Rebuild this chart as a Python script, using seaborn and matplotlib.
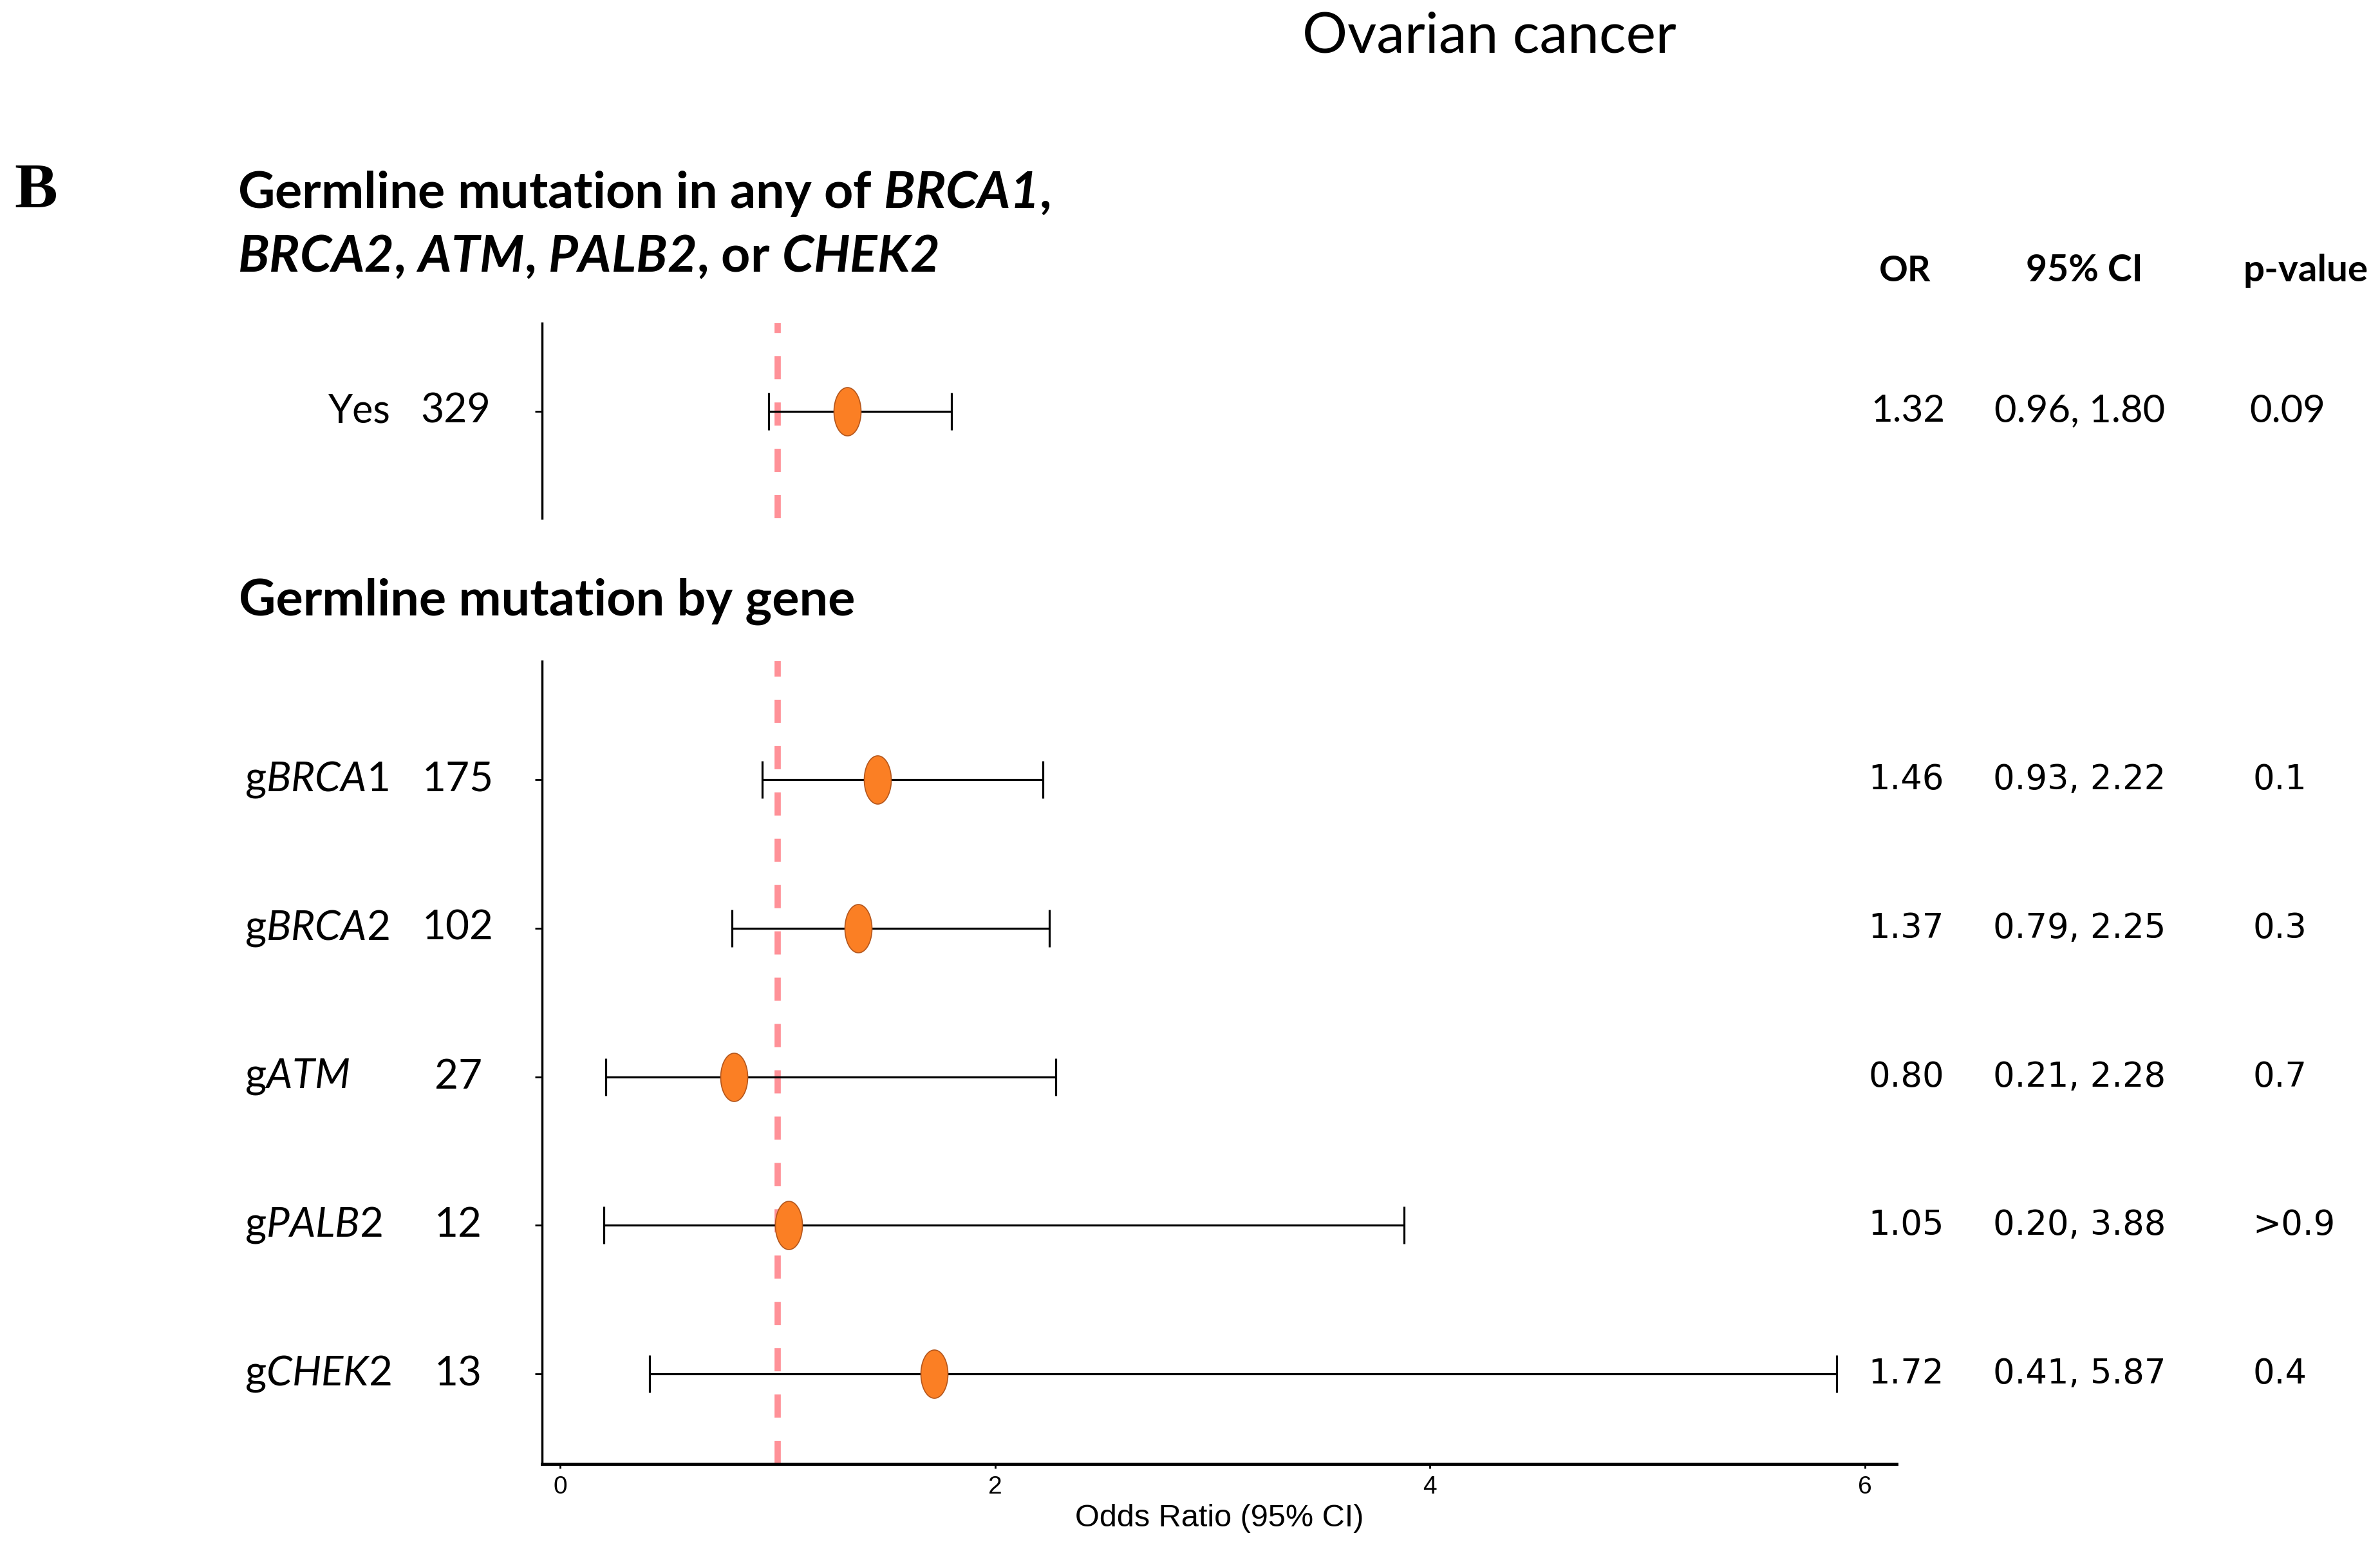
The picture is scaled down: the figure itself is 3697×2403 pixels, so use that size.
import numpy as np
import pandas as pd
import matplotlib
matplotlib.use("Agg")
import matplotlib.pyplot as plt
import matplotlib.transforms as mtransforms
from matplotlib.path import Path
from matplotlib.markers import MarkerStyle
import seaborn as sns

# ---------------- data ----------------
overall_label = ["Yes"]
overall_n = [329]
overall_or = [1.32]
overall_lo = [0.96]
overall_hi = [1.80]
overall_p = ["0.09"]

genes = ["BRCA1", "BRCA2", "ATM", "PALB2", "CHEK2"]
gene_n = [175, 102, 27, 12, 13]
gene_or = [1.46, 1.37, 0.80, 1.05, 1.72]
gene_lo = [0.93, 0.79, 0.21, 0.20, 0.41]
gene_hi = [2.22, 2.25, 2.28, 3.88, 5.87]
gene_p = ["0.1", "0.3", "0.7", ">0.9", "0.4"]

x_ticks = [0, 2, 4, 6]
ref_line = 1.0

# ---------------- style ----------------
sns.set_style("white")
plt.rcParams["font.family"] = ["Lato", "DejaVu Sans"]
plt.rcParams["text.color"] = "black"
plt.rcParams["axes.labelcolor"] = "black"
plt.rcParams["xtick.color"] = "black"
plt.rcParams["ytick.color"] = "black"
plt.rcParams["mathtext.fontset"] = "custom"
plt.rcParams["mathtext.rm"] = "Lato"
plt.rcParams["mathtext.it"] = "Lato:italic"
plt.rcParams["mathtext.bf"] = "Lato:bold"
try:
    plt.rcParams["mathtext.bfit"] = "Lato:italic:bold"
except Exception:
    pass

W, H = 3697, 2403
fig = plt.figure(figsize=(W / 100, H / 100), dpi=100)

ORANGE = "#FB7F24"
EDGE = "#B4561C"
PINK = "#FF9198"

# ellipse marker
t = np.linspace(0, 2 * np.pi, 100)
ell = Path(np.column_stack([0.56 * np.cos(t), np.sin(t)]), closed=True)
ell_marker = MarkerStyle(ell)

XLIM = (-0.083, 6.146)
ax_left, ax_w = 842 / W, (2946 - 842) / W

ax_top = fig.add_axes([ax_left, 1 - 805 / H, ax_w, (805 - 502) / H])
ax_bot = fig.add_axes([ax_left, 1 - 2273.5 / H, ax_w, (2273.5 - 1027) / H])

df_top = pd.DataFrame({"OR": overall_or, "lo": overall_lo, "hi": overall_hi,
                       "pos": [0.0]})
gene_pos = list(range(len(genes), 0, -1))
df_bot = pd.DataFrame({"OR": gene_or, "lo": gene_lo, "hi": gene_hi,
                       "pos": gene_pos})

for ax, df in [(ax_top, df_top), (ax_bot, df_bot)]:
    ax.axvline(ref_line, color=PINK, lw=7, ls=(0, (3.7, 3.7)), zorder=1)
    ax.errorbar(df["OR"], df["pos"],
                xerr=[df["OR"] - df["lo"], df["hi"] - df["OR"]],
                fmt="none", ecolor="black", elinewidth=2.3,
                capsize=21, capthick=2.3, zorder=2)
    sns.scatterplot(data=df, x="OR", y="pos", marker=ell_marker, s=54 ** 2,
                    color=ORANGE, edgecolor=EDGE, linewidth=1.2, ax=ax,
                    zorder=3, legend=False)
    ax.set_xlim(*XLIM)
    ax.set_yticks(df["pos"].tolist())
    ax.set_yticklabels([])
    ax.tick_params(axis="y", left=True, length=8, width=2, color="black")
    ax.set_ylabel("")
    for s in ["top", "right"]:
        ax.spines[s].set_visible(False)
    ax.spines["left"].set_linewidth(2.5)
    ax.spines["left"].set_color("black")
    ax.set_facecolor("white")

ax_top.set_ylim(-0.719, 0.593)
ax_top.spines["bottom"].set_visible(False)
ax_top.set_xticks([])
ax_top.set_xlabel("")

ax_bot.set_ylim(1 - 0.604, len(genes) + 0.797)
ax_bot.spines["bottom"].set_linewidth(3.5)
ax_bot.spines["bottom"].set_color("black")
ax_bot.set_xticks(x_ticks)
ax_bot.set_xticklabels([str(v) for v in x_ticks],
                       fontfamily="Liberation Sans", fontsize=28)
ax_bot.tick_params(axis="x", bottom=True, length=5, width=2, pad=8,
                   color="black", labelcolor="black")
ax_bot.set_xlabel("Odds Ratio (95% CI)", fontfamily="Liberation Sans",
                  fontsize=35, labelpad=6, color="black")

# ---------------- texts ----------------
fig.text(2313 / W, 1 - 81 / H, "Ovarian cancer", ha="center", va="baseline",
         fontsize=63, fontfamily="Lato")
fig.text(22 / W, 1 - 321 / H, "B", ha="left", va="baseline", fontsize=72,
         fontfamily="Liberation Serif", fontweight="bold")
fig.text(369 / W, 1 - 323 / H,
         r"Germline mutation in any of $\mathbfit{BRCA1}$,",
         ha="left", va="baseline", fontsize=57, fontweight="bold")
fig.text(369 / W, 1 - 422 / H,
         r"$\mathbfit{BRCA2}$, $\mathbfit{ATM}$, $\mathbfit{PALB2}$, or $\mathbfit{CHEK2}$",
         ha="left", va="baseline", fontsize=57, fontweight="bold")
fig.text(371 / W, 1 - 956 / H, "Germline mutation by gene",
         ha="left", va="baseline", fontsize=57, fontweight="bold")

# column headers
hdr_y = 1 - 437 / H
fig.text(0.8004, hdr_y, "OR", ha="center", va="baseline", fontsize=40,
         fontweight="bold")
fig.text(0.8757, hdr_y, "95% CI", ha="center", va="baseline", fontsize=41,
         fontweight="bold")
fig.text(0.9688, hdr_y, "p-value", ha="center", va="baseline", fontsize=42,
         fontweight="bold")

# top panel row
tr_top = mtransforms.blended_transform_factory(fig.transFigure, ax_top.transData)
for lab, n, o, lo, hi, p, y in zip(overall_label, overall_n, overall_or,
                                   overall_lo, overall_hi, overall_p, [0.0]):
    fig.text(0.1642, y, lab, transform=tr_top, ha="right", va="center",
             fontsize=44)
    fig.text(0.1915, y, str(n), transform=tr_top, ha="center", va="center",
             fontsize=45)
    fig.text(0.8017, y, f"{o:.2f}", transform=tr_top, ha="center",
             va="center", fontsize=42)
    fig.text(0.8738, y, f"{lo:.2f}, {hi:.2f}", transform=tr_top,
             ha="center", va="center", fontsize=43)
    fig.text(0.9612, y, p, transform=tr_top, ha="center", va="center",
             fontsize=43)

# bottom panel rows
tr_bot = mtransforms.blended_transform_factory(fig.transFigure, ax_bot.transData)
for g, n, o, lo, hi, p, y in zip(genes, gene_n, gene_or, gene_lo, gene_hi,
                                 gene_p, gene_pos):
    fig.text(0.1028, y, "g$\\mathit{" + g + "}$", transform=tr_bot,
             ha="left", va="center", fontsize=46)
    fig.text(0.1925, y, str(n), transform=tr_bot, ha="center", va="center",
             fontsize=46)
    fig.text(0.801, y, f"{o:.2f}", transform=tr_bot, ha="center",
             va="center", fontsize=38, fontfamily="DejaVu Sans")
    fig.text(0.8738, y, f"{lo:.2f}, {hi:.2f}", transform=tr_bot,
             ha="center", va="center", fontsize=38, fontfamily="DejaVu Sans")
    fig.text(0.9465, y, p, transform=tr_bot, ha="left", va="center",
             fontsize=38, fontfamily="DejaVu Sans")

fig.savefig("out.png", dpi=100, facecolor="white")
